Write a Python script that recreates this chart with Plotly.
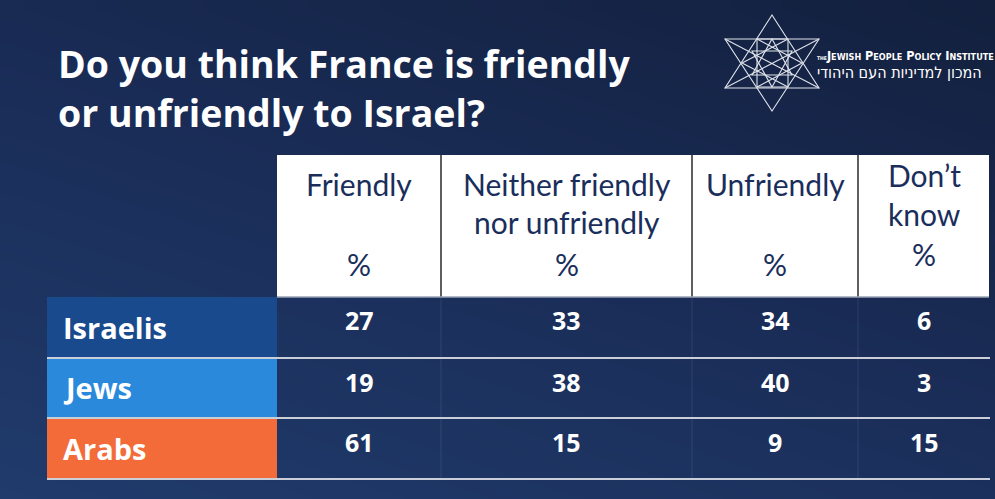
import numpy as np
import plotly.graph_objects as go

# ---- survey data -------------------------------------------------------
groups = ["Israelis", "Jews", "Arabs"]
answers = ["Friendly", "Neither friendly nor unfriendly", "Unfriendly", "Don’t know"]
friendly = [27, 19, 61]
neither = [33, 38, 15]
unfriendly = [34, 40, 9]
dont_know = [6, 3, 15]
title_lines = ["Do you think France is friendly", "or unfriendly to Israel?"]
header_lines = [["Friendly", "", "%"],
                ["Neither friendly", "nor unfriendly", "%"],
                ["Unfriendly", "", "%"],
                ["Don’t", "know", "%"]]

# ---- page geometry (pixel space) --------------------------------------
W, H = 995, 499
panel = (9, 9, W, H)
col_edges = [277, 441, 692, 858, 990]
label_x0 = 47
head_y0, head_y1 = 155, 297
row_edges = [297, 358, 418, 479]
group_colors = ["#1a4a8e", "#2a89db", "#f26b38"]
head_text_color = "#1a2e5c"
title_font = "Open Sans, Noto Sans, sans-serif"
head_font = "Lato, Open Sans, sans-serif"

fig = go.Figure()

# gradient panel background: lighter towards bottom-left
nx, ny = 40, 20
xs = np.linspace(panel[0], panel[2], nx)
ys = np.linspace(panel[1], panel[3], ny)
X, Y = np.meshgrid(xs, ys)
shade = 0.6 * (Y - panel[1]) / (panel[3] - panel[1]) + 0.4 * (1 - (X - panel[0]) / (panel[2] - panel[0]))
fig.add_trace(go.Heatmap(
    x=xs, y=ys, z=shade, zsmooth="best", zmin=0, zmax=1,
    colorscale=[[0, "#13203e"], [0.5, "#1a2d58"], [1, "#203b6c"]],
    showscale=False, hoverinfo="skip"))

shapes = []
# header block
shapes.append(dict(type="rect", x0=col_edges[0], x1=col_edges[-1] - 1, y0=head_y0, y1=head_y1,
                   fillcolor="white", line=dict(width=0), layer="above"))
for cx in col_edges[1:-1]:
    shapes.append(dict(type="line", x0=cx, x1=cx, y0=head_y0, y1=head_y1,
                       line=dict(color="#2a2a2a", width=1.5), layer="above"))
shapes.append(dict(type="line", x0=col_edges[0], x1=col_edges[-1] - 1, y0=head_y1, y1=head_y1,
                   line=dict(color="#9aa3b5", width=1.5), layer="above"))

# group label cells
for i, c in enumerate(group_colors):
    shapes.append(dict(type="rect", x0=label_x0, x1=col_edges[0], y0=row_edges[i], y1=row_edges[i + 1],
                       fillcolor=c, line=dict(width=0), layer="above"))
# faint body column dividers
for cx in col_edges[1:-1]:
    shapes.append(dict(type="line", x0=cx, x1=cx, y0=row_edges[0], y1=row_edges[-1],
                       line=dict(color="rgba(120,140,180,0.2)", width=1), layer="above"))
# row separators
for ry in row_edges[1:]:
    shapes.append(dict(type="line", x0=label_x0, x1=col_edges[-1], y0=ry, y1=ry,
                       line=dict(color="#c9ced8", width=2), layer="above"))

# institute emblem: hexagram with inner construction lines
lc = dict(color="#dfe3ea", width=1.1)
emblem = [
    "M 772 15 L 819 88 L 725 88 Z",
    "M 772 111 L 819 39 L 725 39 Z",
    "M 757 39 L 788 39 L 788 87 L 757 87 Z",
    "M 742 63 L 788 39 M 742 63 L 788 87 M 802 63 L 757 39 M 802 63 L 757 87",
    "M 772 39 L 792 75 L 752 75 Z",
    "M 772 87 L 792 51 L 752 51 Z",
    "M 725 39 L 819 88 M 819 39 L 725 88",
]
for p in emblem:
    shapes.append(dict(type="path", path=p, line=lc, layer="above"))

annotations = []
# title
for k, line in enumerate(title_lines):
    annotations.append(dict(x=56, y=63 + 49 * k, text=line, showarrow=False, xanchor="left",
                            yanchor="middle",
                            font=dict(family=title_font, size=37.5, color="white", weight=700)))
# emblem wordmark
annotations.append(dict(x=815, y=55, xanchor="left", yanchor="middle", showarrow=False,
                        text="<span style='font-size:5px'>THE</span>Jewish People Policy Institute",
                        font=dict(family="Liberation Sans Narrow, DejaVu Sans Condensed, sans-serif",
                                  size=12.5, color="white", variant="small-caps", weight=700)))
annotations.append(dict(x=815, y=72, xanchor="left", yanchor="middle", showarrow=False,
                        text="המכון למדיניות העם היהודי",
                        font=dict(family="DejaVu Sans Condensed, Noto Sans, sans-serif",
                                  size=16, color="white")))

# header labels
centers = [(col_edges[j] + col_edges[j + 1]) / 2 for j in range(len(answers))]
line_ys = [[184, 222, 264], [184, 222, 264], [184, 222, 264], [175, 214, 254]]
for j, lines in enumerate(header_lines):
    for k, t in enumerate(lines):
        if t:
            annotations.append(dict(x=centers[j], y=line_ys[j][k], text=t, showarrow=False,
                                    xanchor="center", yanchor="middle",
                                    font=dict(family=head_font, size=30, color=head_text_color)))

# group labels and values
value_cols = [friendly, neither, unfriendly, dont_know]
label_ys = [327, 387, 448]
value_ys = [320, 382, 442]
for i, g in enumerate(groups):
    annotations.append(dict(x=61, y=label_ys[i], text=g, showarrow=False, xanchor="left",
                            yanchor="middle",
                            font=dict(family=title_font, size=29, color="white", weight=700)))
    for j, vals in enumerate(value_cols):
        annotations.append(dict(x=centers[j], y=value_ys[i], text=str(vals[i]), showarrow=False,
                                xanchor="center", yanchor="middle",
                                font=dict(family=title_font, size=25, color="white", weight=700)))

fig.update_layout(
    width=W, height=H, margin=dict(l=0, r=0, t=0, b=0),
    paper_bgcolor="#ebe8ee", plot_bgcolor="#ebe8ee",
    xaxis=dict(range=[0, W], visible=False, fixedrange=True),
    yaxis=dict(range=[H, 0], visible=False, fixedrange=True),
    shapes=shapes, annotations=annotations, showlegend=False,
)
fig.write_html("out.html", config={"displayModeBar": False})
